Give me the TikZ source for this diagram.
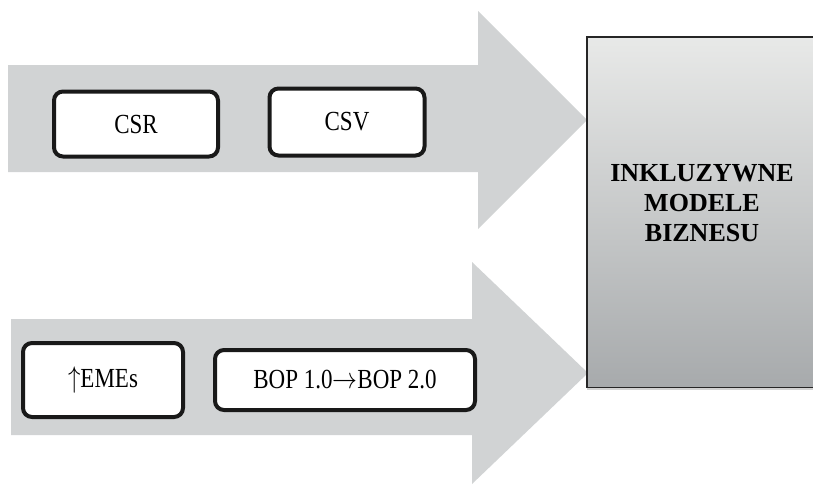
\documentclass[tikz,border=0pt]{standalone}
\usepackage{fontspec}
\setmainfont{Liberation Serif}
\usepackage{graphicx}
\usepackage{tikz}
\usetikzlibrary{shadows}

\definecolor{arrowgray}{HTML}{D1D3D4}
\definecolor{boxtop}{HTML}{E8E9E8}
\definecolor{boxbottom}{HTML}{A7AAAC}
\newcommand{\tagtext}[1]{\scalebox{1}[1.2]{#1}}

\begin{document}
\begin{tikzpicture}[x=1pt, y=-1pt,
  tag/.style={draw=black!90, line width=4pt, rounded corners=9pt, fill=white,
    font=\fontsize{23}{26}\selectfont, inner sep=0pt},
  bigarrow/.style={fill=arrowgray, draw=none}]
  \useasboundingbox (0,0) rectangle (813,488);
  \fill[bigarrow] (8,65) -- (478,65) -- (478,11) -- (587,120) -- (478,229) -- (478,172) -- (8,172) -- cycle;
  \fill[bigarrow] (11,319) -- (472,319) -- (472,262) -- (588,373) -- (472,484) -- (472,435) -- (11,435) -- cycle;
  \node[top color=boxtop, bottom color=boxbottom,
    drop shadow={opacity=0.35, shadow xshift=0pt, shadow yshift=-3pt},
    minimum width=240pt, minimum height=350pt, anchor=north west, inner sep=0pt] (ibm) at (587,37) {};
  \draw[black!85, line width=1.2pt] (ibm.north east) -- (ibm.north west) -- (ibm.south west) -- (ibm.south east);
  \node[font=\fontsize{26}{30}\selectfont\bfseries, align=center] (ibmtxt) at (702,203) {INKLUZYWNE\\MODELE\\BIZNESU};
  \node[tag, minimum width=164pt, minimum height=65pt] (csr) at (136,124) {\tagtext{CSR}};
  \node[tag, minimum width=155pt, minimum height=67pt] (csv) at (347,122) {\tagtext{CSV}};
  \node[tag, minimum width=160pt, minimum height=74pt] (emes) at (103,380) {\tagtext{$\uparrow$EMEs}};
  \node[tag, minimum width=260pt, minimum height=60pt] (bop) at (345,380) {\tagtext{BOP 1.0$\rightarrow$BOP 2.0}};
\end{tikzpicture}
\end{document}
